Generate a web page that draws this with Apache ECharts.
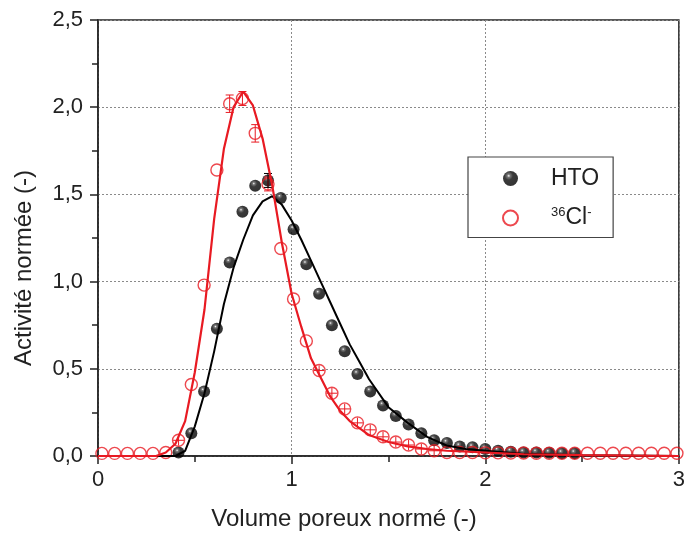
<!DOCTYPE html>
<html lang="fr">
<head>
    <meta charset="UTF-8">
    <title>Activité normée</title>
    <style>
        body{ margin: 0; background: #fff; }
        #main{ width: 688px; height: 541px; }
    </style>
</head>
<body>
<div id="main"></div>
<script src="https://cdn.jsdelivr.net/npm/echarts@6/dist/echarts.min.js"></script>
<script>
    // points mesures (volume poreux norme)
    const clX = [0.02, 0.086, 0.152, 0.218, 0.284, 0.35, 0.416, 0.482, 0.548, 0.614, 0.68, 0.746, 0.812, 0.878, 0.944,
        1.01, 1.076, 1.142, 1.208, 1.274, 1.34, 1.406, 1.472, 1.538, 1.604, 1.67, 1.736, 1.802, 1.868, 1.934,
        2.0, 2.066, 2.132, 2.198, 2.264, 2.33, 2.396, 2.462, 2.528, 2.594, 2.66, 2.726, 2.792, 2.858, 2.924, 2.99];
    const clY = [0.015, 0.015, 0.015, 0.015, 0.015, 0.02, 0.09, 0.41, 0.98, 1.64, 2.02, 2.05, 1.85, 1.56, 1.19,
        0.90, 0.66, 0.49, 0.36, 0.27, 0.19, 0.15, 0.11, 0.08, 0.063, 0.04, 0.03, 0.02, 0.02, 0.02,
        0.018, 0.018, 0.017, 0.017, 0.016, 0.016, 0.016, 0.016, 0.016, 0.016, 0.016, 0.016, 0.016, 0.016, 0.016, 0.016];
    // barres d'erreur
    const clErrY = [0, 0, 0, 0, 0, 0, 0.03, 0, 0, 0, 0.05, 0.04, 0.05, 0.04, 0,
        0, 0, 0.03, 0.03, 0.03, 0.03, 0.03, 0.03, 0.03, 0.03, 0.03, 0.03, 0, 0, 0];
    const clErrX = [0, 0, 0, 0, 0, 0, 0.028, 0, 0, 0, 0, 0, 0, 0, 0,
        0, 0, 0.028, 0.028, 0.028, 0.028, 0.028, 0.028, 0.028, 0.028, 0.028, 0.028, 0, 0, 0];

    const htoX = [0.416, 0.482, 0.548, 0.614, 0.68, 0.746, 0.812, 0.878, 0.944, 1.01, 1.076, 1.142, 1.208, 1.274,
        1.34, 1.406, 1.472, 1.538, 1.604, 1.67, 1.736, 1.802, 1.868, 1.934, 2.0, 2.066, 2.132, 2.198, 2.264,
        2.33, 2.396, 2.462];
    const htoY = [0.02, 0.13, 0.37, 0.73, 1.11, 1.40, 1.55, 1.58, 1.48, 1.30, 1.10, 0.93, 0.75, 0.60,
        0.47, 0.37, 0.29, 0.23, 0.18, 0.13, 0.09, 0.075, 0.055, 0.05, 0.04, 0.03, 0.025, 0.02, 0.02,
        0.018, 0.016, 0.016];
    const htoErrY = [0, 0, 0, 0, 0, 0, 0, 0.04];

    // courbes modelisees
    const clFitX = [0, 0.30, 0.35, 0.40, 0.45, 0.50, 0.55, 0.60, 0.65, 0.70, 0.75, 0.80, 0.85, 0.90, 0.95, 1.00,
        1.05, 1.10, 1.15, 1.20, 1.25, 1.30, 1.40, 1.50, 1.60, 1.70, 1.80, 2.00, 2.20, 2.50, 3.00];
    const clFitY = [0, 0, 0.02, 0.07, 0.2, 0.48, 0.84, 1.36, 1.76, 2.0, 2.09, 2.01, 1.82, 1.55, 1.22, 0.93,
        0.74, 0.56, 0.45, 0.34, 0.26, 0.2, 0.12, 0.08, 0.055, 0.04, 0.03, 0.02, 0.01, 0.005, 0];
    const htoFitX = [0, 0.40, 0.45, 0.50, 0.55, 0.60, 0.65, 0.70, 0.75, 0.80, 0.85, 0.90, 0.95, 1.00, 1.05, 1.10,
        1.15, 1.20, 1.25, 1.30, 1.35, 1.40, 1.50, 1.60, 1.70, 1.80, 1.90, 2.00, 2.20, 2.50, 3.00];
    const htoFitY = [0, 0, 0.03, 0.17, 0.36, 0.6, 0.87, 1.08, 1.24, 1.38, 1.46, 1.49, 1.44, 1.35, 1.24, 1.12,
        1.0, 0.88, 0.76, 0.64, 0.54, 0.44, 0.28, 0.19, 0.11, 0.06, 0.04, 0.03, 0.012, 0.004, 0];

    const xTicks = [0, 1, 2, 3];
    const yTicks = [0, 0.5, 1.0, 1.5, 2.0, 2.5];

    const RED = '#e81a22';
    const FONT = 'Liberation Sans';

    const zip = (a, b) => a.map((v, i) => [v, b[i]]);

    const errData = [];
    clX.forEach((x, i) => {
        if (clErrY[i] || clErrX[i]) errData.push([x, clY[i], clErrY[i] || 0, clErrX[i] || 0, 'r']);
    });
    htoX.forEach((x, i) => {
        if (htoErrY[i]) errData.push([x, htoY[i], htoErrY[i], 0, 'k']);
    });

    const myChart = echarts.init(document.getElementById('main'));

    const option = {
        animation: false,
        textStyle: {fontFamily: FONT},
        grid: {
            left: 98, right: 6, top: 20, bottom: 85,
            show: true, borderColor: '#222', borderWidth: 1.5
        },
        xAxis: {
            type: 'value', min: 0, max: 3, interval: 1,
            axisLine: {show: true, lineStyle: {color: '#222', width: 1.5}},
            axisTick: {show: true, length: 8, lineStyle: {color: '#222', width: 1.5}},
            minorTick: {show: true, splitNumber: 2, length: 6, lineStyle: {color: '#222', width: 1.5}},
            axisLabel: {
                fontSize: 22, color: '#222', margin: 13, fontFamily: FONT,
                formatter: v => xTicks.includes(v) ? String(v) : ''
            },
            splitLine: {show: true, lineStyle: {color: '#8a8a8a', type: [2, 2], width: 1}}
        },
        yAxis: {
            type: 'value', min: 0, max: 2.5, interval: 0.5,
            axisLine: {show: true, lineStyle: {color: '#222', width: 1.5}},
            axisTick: {show: true, length: 8, lineStyle: {color: '#222', width: 1.5}},
            minorTick: {show: true, splitNumber: 2, length: 6, lineStyle: {color: '#222', width: 1.5}},
            axisLabel: {
                fontSize: 22, color: '#222', margin: 15, fontFamily: FONT,
                formatter: v => yTicks.includes(v) ? v.toFixed(1).replace('.', ',') : ''
            },
            splitLine: {show: true, lineStyle: {color: '#8a8a8a', type: [2, 2], width: 1}}
        },
        legend: {
            data: ['HTO', 'Cl'],
            orient: 'vertical',
            left: 468, top: 157,
            padding: [10, 14, 8, 34],
            itemGap: 16,
            itemWidth: 15, itemHeight: 15,
            borderColor: '#444', borderWidth: 1.2, backgroundColor: '#fff',
            formatter: n => n === 'HTO' ? '{b|HTO}' : '{sup|36}{b|Cl}{sup|-}',
            textStyle: {
                padding: [0, 0, 0, 28],
                rich: {
                    b: {fontSize: 23, lineHeight: 24, color: '#222', fontFamily: FONT},
                    sup: {fontSize: 13, lineHeight: 24, color: '#222', fontFamily: FONT, verticalAlign: 'top'}
                }
            }
        },
        graphic: [
            {
                type: 'text', left: 'center', top: 507,
                style: {text: 'Volume poreux normé (-)', font: '24px "Liberation Sans"', fill: '#222'}
            },
            {
                type: 'text', x: 24, y: 268, rotation: Math.PI / 2,
                style: {text: 'Activité normée (-)', font: '24px "Liberation Sans"', fill: '#222',
                    align: 'center', verticalAlign: 'middle'}
            }
        ],
        series: [
            {
                name: 'HTO', type: 'scatter', symbol: 'circle', symbolSize: 12, z: 2,
                itemStyle: {
                    color: {
                        type: 'radial', x: 0.38, y: 0.32, r: 0.7,
                        colorStops: [
                            {offset: 0, color: '#fafafa'},
                            {offset: 0.15, color: '#555'},
                            {offset: 0.4, color: '#0a0a0a'},
                            {offset: 1, color: '#000'}
                        ]
                    }
                },
                data: zip(htoX, htoY)
            },
            {
                name: 'Cl', type: 'scatter', symbol: 'circle', symbolSize: 12, z: 3,
                itemStyle: {color: 'rgba(255,255,255,0)', borderColor: RED, borderWidth: 1.4},
                data: zip(clX, clY)
            },
            {
                name: 'barres', type: 'custom', z: 4,
                renderItem: function (params, api) {
                    const x = api.value(0), y = api.value(1), ey = api.value(2), ex = api.value(3);
                    const col = api.value(4) === 'r' ? RED : '#000';
                    const children = [];
                    const st = {stroke: col, lineWidth: 1};
                    if (ey) {
                        const a = api.coord([x, y - ey]), b = api.coord([x, y + ey]);
                        children.push({type: 'line', shape: {x1: a[0], y1: a[1], x2: b[0], y2: b[1]}, style: st});
                        if (!ex) {
                            children.push({type: 'line', shape: {x1: a[0] - 4, y1: a[1], x2: a[0] + 4, y2: a[1]}, style: st});
                            children.push({type: 'line', shape: {x1: b[0] - 4, y1: b[1], x2: b[0] + 4, y2: b[1]}, style: st});
                        }
                    }
                    if (ex) {
                        const c = api.coord([x - ex, y]), d = api.coord([x + ex, y]);
                        children.push({type: 'line', shape: {x1: c[0], y1: c[1], x2: d[0], y2: d[1]}, style: st});
                    }
                    return {type: 'group', children: children};
                },
                encode: {x: 0, y: 1},
                data: errData
            },
            {
                name: 'HTO fit', type: 'line', showSymbol: false, symbol: 'none', z: 5,
                lineStyle: {color: '#000', width: 2},
                data: zip(htoFitX, htoFitY)
            },
            {
                name: 'Cl fit', type: 'line', showSymbol: false, symbol: 'none', z: 6,
                lineStyle: {color: RED, width: 2.2},
                data: zip(clFitX, clFitY)
            }
        ]
    };
    myChart.setOption(option);
</script>
</body>
</html>
